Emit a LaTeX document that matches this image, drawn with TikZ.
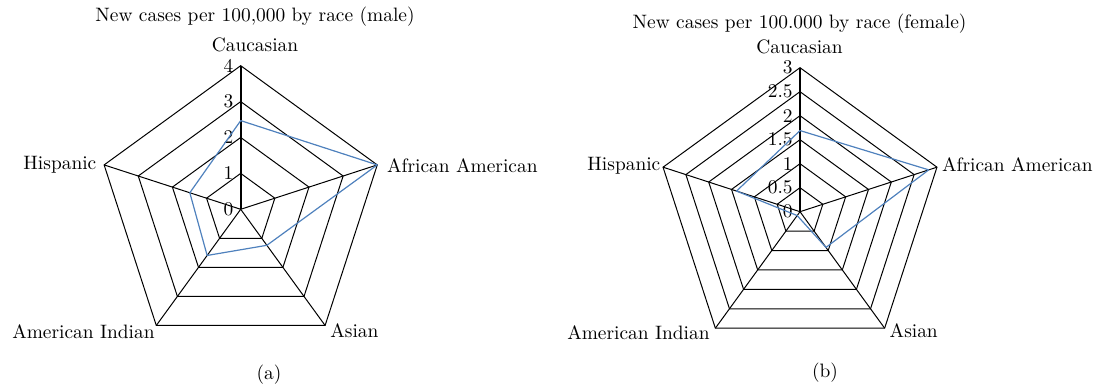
\documentclass[tikz,border=0pt]{standalone}
\usepackage{tikz}
\definecolor{seriesblue}{RGB}{79,129,189}

\tikzset{
  grid/.style={black, line width=0.5pt, line join=miter},
  axisline/.style={black, line width=1pt},
  series/.style={seriesblue, line width=0.6pt, line join=round},
  ticklabel/.style={anchor=east, inner sep=0pt},
  catlabel/.style={inner sep=0pt},
}

\begin{document}
\begin{tikzpicture}[x=0.5pt, y=0.5pt, font=\fontsize{9.7}{11}\selectfont]
  \useasboundingbox (0,0) rectangle (1098,389);

  % (a) male, scale 0..4
  \begin{scope}[shift={(240.7,179.7)}]
    \foreach \r in {1,...,4}
      \draw[grid] (90:{\r*35.9}) -- (18:{\r*35.9}) -- (-54:{\r*35.9}) -- (-126:{\r*35.9}) -- (162:{\r*35.9}) -- cycle;
    \foreach \a in {18,-54,-126,162}
      \draw[grid] (0,0) -- (\a:143.6);
    \draw[axisline] (0,0) -- (90:143.6);
    \foreach \v in {0,...,4}
      \node[ticklabel] (ma-t\v) at (-7,{\v*35.9}) {\v};
    \draw[series] (90:{2.47*35.9}) -- (18:{4*35.9}) -- (-54:{1.24*35.9}) -- (-126:{1.59*35.9}) -- (162:{1.49*35.9}) -- cycle;
    \node[catlabel, anchor=base] (ma-title) at (14.3,187.6) {New cases per 100,000 by race (male)};
    \node[catlabel, anchor=base] (ma-cau) at (14.3,157.6) {Caucasian};
    \node[catlabel, anchor=base west] (ma-afr) at (146,36.3) {African American};
    \node[catlabel, anchor=base west] (ma-asi) at (89.3,-128.7) {Asian};
    \node[catlabel, anchor=base east] (ma-ind) at (-85.7,-129.7) {American Indian};
    \node[catlabel, anchor=base east] (ma-his) at (-144,40) {Hispanic};
    \node (ma-cap) at (28.3,-165.7) {(a)};
  \end{scope}

  % (b) female, scale 0..3
  \begin{scope}[shift={(800,177.3)}]
    \foreach \r in {1,...,6}
      \draw[grid] (90:{\r*24}) -- (18:{\r*24}) -- (-54:{\r*24}) -- (-126:{\r*24}) -- (162:{\r*24}) -- cycle;
    \foreach \a in {18,-54,-126,162}
      \draw[grid] (0,0) -- (\a:144);
    \draw[axisline] (0,0) -- (90:144);
    \foreach \v [count=\i from 0] in {0,0.5,1,1.5,2,2.5,3}
      \node[ticklabel] (fe-t\i) at (-7,{\i*24}) {\v};
    \draw[series] (90:{1.69*48}) -- (18:{2.82*48}) -- (-54:{0.92*48}) -- (-126:{0.1*48}) -- (162:{1.39*48}) -- cycle;
    \node[catlabel, anchor=base] (fe-title) at (-0.5,183.4) {New cases per 100.000 by race (female)};
    \node[catlabel, anchor=base] (fe-cau) at (-0.5,157.7) {Caucasian};
    \node[catlabel, anchor=base west] (fe-afr) at (141.7,40) {African American};
    \node[catlabel, anchor=base west] (fe-asi) at (89.3,-126.3) {Asian};
    \node[catlabel, anchor=base east] (fe-ind) at (-90,-128.3) {American Indian};
    \node[catlabel, anchor=base east] (fe-his) at (-139.3,40.7) {Hispanic};
    \node (fe-cap) at (25,-161.3) {(b)};
  \end{scope}
\end{tikzpicture}
\end{document}
